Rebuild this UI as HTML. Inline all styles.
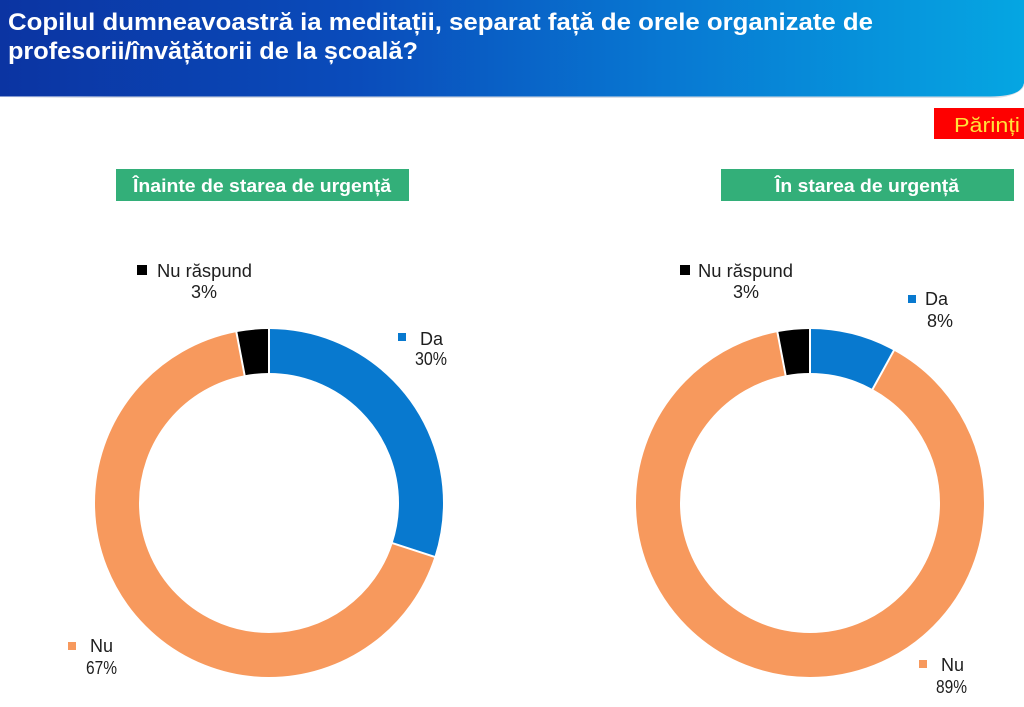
<!DOCTYPE html>
<html>
<head>
<meta charset="utf-8">
<style>
  html, body { margin: 0; padding: 0; background: #ffffff; }
  body { width: 1024px; height: 707px; overflow: hidden; }
  svg { display: block; }
  text { font-family: "Liberation Sans", "DejaVu Sans", sans-serif; }
</style>
</head>
<body>
<svg width="1024" height="707" viewBox="0 0 1024 707" xmlns="http://www.w3.org/2000/svg">
  <defs>
    <linearGradient id="hdr" x1="0" y1="0" x2="1" y2="0">
      <stop offset="0" stop-color="#0b34a2"/>
      <stop offset="0.35" stop-color="#0a4cbb"/>
      <stop offset="0.65" stop-color="#0878d2"/>
      <stop offset="1" stop-color="#05a6e2"/>
    </linearGradient>
  </defs>

  <!-- header -->
  <path d="M0 98 H992 C1012 98 1024 90 1024 85 V85 Z" fill="#d9dee6"/>
  <path d="M0 0 H1024 V83 C1022 92 1012 96.5 990 96.5 H0 Z" fill="url(#hdr)"/>
  <text x="8" y="30" font-size="24" font-weight="bold" fill="#ffffff" textLength="865" lengthAdjust="spacingAndGlyphs">Copilul dumneavoastră ia meditații, separat față de orele organizate de</text>
  <text x="8" y="59" font-size="24" font-weight="bold" fill="#ffffff" textLength="410" lengthAdjust="spacingAndGlyphs">profesorii/învățătorii de la școală?</text>

  <!-- Parinti tag -->
  <rect x="934" y="108" width="90" height="31" fill="#fe0000"/>
  <text x="954" y="132" font-size="20" fill="#ffe23a" textLength="66" lengthAdjust="spacingAndGlyphs">Părinți</text>

  <!-- green boxes -->
  <rect x="116" y="169" width="293" height="32" fill="#33af79"/>
  <text x="133" y="192" font-size="18" font-weight="bold" fill="#ffffff" textLength="258" lengthAdjust="spacingAndGlyphs">Înainte de starea de urgență</text>
  <rect x="721" y="169" width="293" height="32" fill="#33af79"/>
  <text x="775" y="192" font-size="18" font-weight="bold" fill="#ffffff" textLength="184" lengthAdjust="spacingAndGlyphs">În starea de urgență</text>

  <!-- left donut -->
  <g transform="rotate(-90 269 503)" fill="none" stroke-width="44">
    <circle cx="269" cy="503" r="152" stroke="#0879cf" stroke-dasharray="286.51 955.04" stroke-dashoffset="0"/>
    <circle cx="269" cy="503" r="152" stroke="#f7995d" stroke-dasharray="639.88 955.04" stroke-dashoffset="-286.51"/>
    <circle cx="269" cy="503" r="152" stroke="#000000" stroke-dasharray="28.65 955.04" stroke-dashoffset="-926.39"/>
  </g>
  <g stroke="#ffffff" stroke-width="2">
    <line x1="269" y1="375" x2="269" y2="327"/>
    <line x1="390.7" y1="542.6" x2="436.4" y2="557.4"/>
    <line x1="245" y1="377.3" x2="236" y2="330"/>
  </g>

  <!-- right donut -->
  <g transform="rotate(-90 810 503)" fill="none" stroke-width="44">
    <circle cx="810" cy="503" r="152" stroke="#0879cf" stroke-dasharray="76.40 955.04" stroke-dashoffset="0"/>
    <circle cx="810" cy="503" r="152" stroke="#f7995d" stroke-dasharray="849.99 955.04" stroke-dashoffset="-76.40"/>
    <circle cx="810" cy="503" r="152" stroke="#000000" stroke-dasharray="28.65 955.04" stroke-dashoffset="-926.39"/>
  </g>
  <g stroke="#ffffff" stroke-width="2">
    <line x1="810" y1="375" x2="810" y2="327"/>
    <line x1="871.7" y1="390.8" x2="894.8" y2="348.8"/>
    <line x1="786" y1="377.3" x2="777" y2="330"/>
  </g>

  <!-- left labels -->
  <rect x="137" y="265" width="10" height="10" fill="#000000"/>
  <text x="157" y="277" font-size="18" fill="#1e1e1e" textLength="95" lengthAdjust="spacingAndGlyphs">Nu răspund</text>
  <text x="204" y="298" font-size="18" fill="#1e1e1e" text-anchor="middle">3%</text>

  <rect x="398" y="333" width="8" height="8" fill="#0879cf"/>
  <text x="420" y="345" font-size="18" fill="#1e1e1e">Da</text>
  <text x="415" y="365" font-size="18" fill="#1e1e1e" textLength="32" lengthAdjust="spacingAndGlyphs">30%</text>

  <rect x="68" y="642" width="8" height="8" fill="#f7995d"/>
  <text x="90" y="652" font-size="18" fill="#1e1e1e">Nu</text>
  <text x="86" y="674" font-size="18" fill="#1e1e1e" textLength="31" lengthAdjust="spacingAndGlyphs">67%</text>

  <!-- right labels -->
  <rect x="680" y="265" width="10" height="10" fill="#000000"/>
  <text x="698" y="277" font-size="18" fill="#1e1e1e" textLength="95" lengthAdjust="spacingAndGlyphs">Nu răspund</text>
  <text x="746" y="298" font-size="18" fill="#1e1e1e" text-anchor="middle">3%</text>

  <rect x="908" y="295" width="8" height="8" fill="#0879cf"/>
  <text x="925" y="305" font-size="18" fill="#1e1e1e">Da</text>
  <text x="927" y="327" font-size="18" fill="#1e1e1e">8%</text>

  <rect x="919" y="660" width="8" height="8" fill="#f7995d"/>
  <text x="941" y="671" font-size="18" fill="#1e1e1e">Nu</text>
  <text x="936" y="693" font-size="18" fill="#1e1e1e" textLength="31" lengthAdjust="spacingAndGlyphs">89%</text>
</svg>
</body>
</html>
